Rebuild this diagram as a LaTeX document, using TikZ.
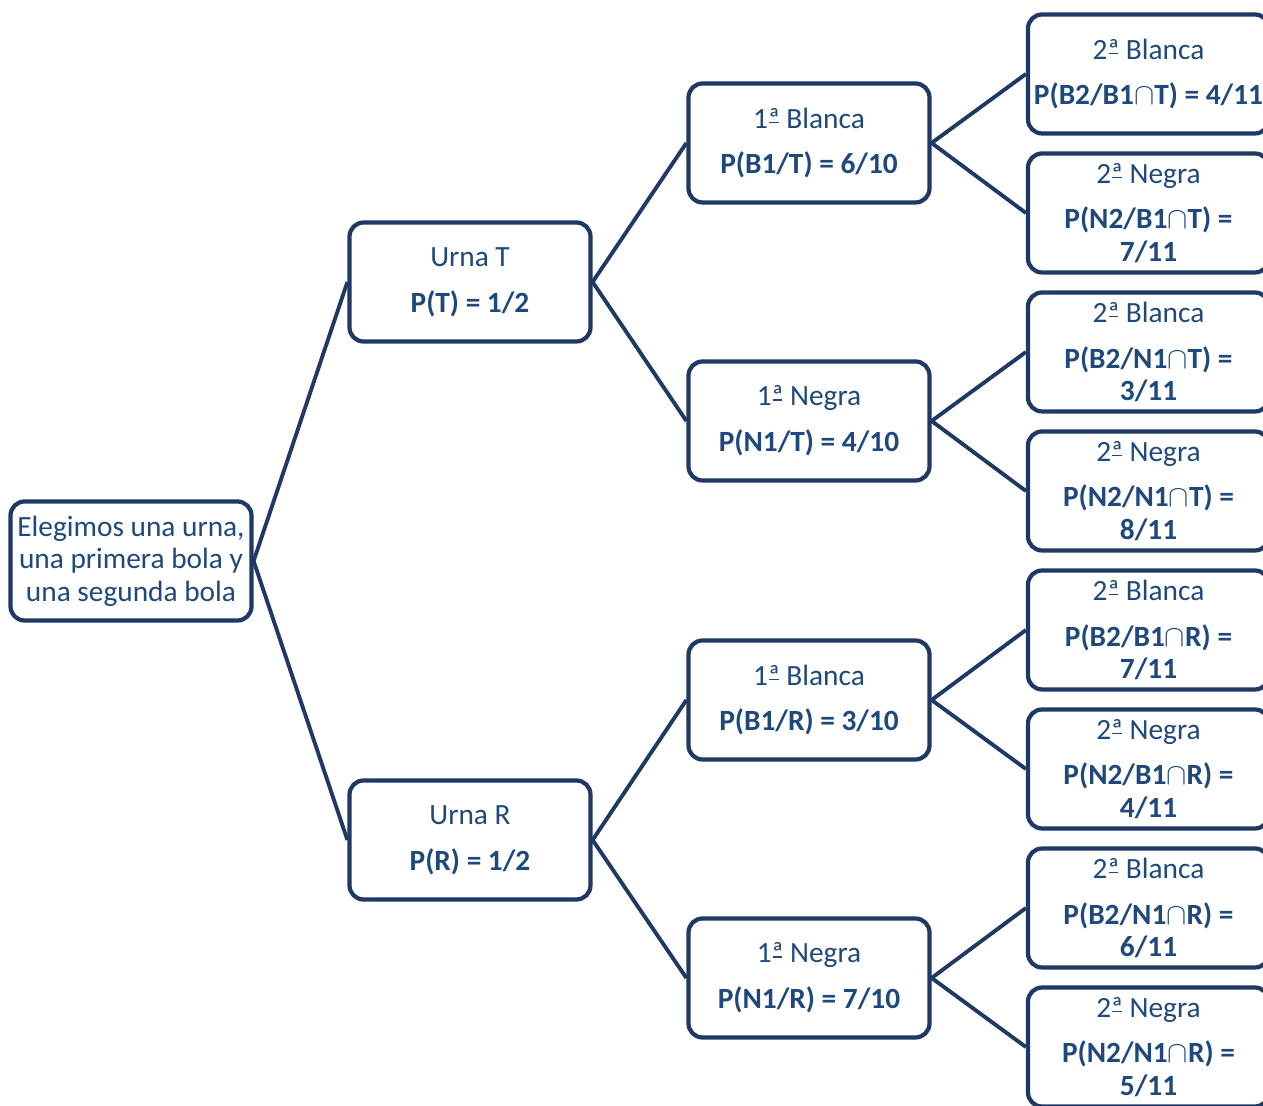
\documentclass[tikz,border=0pt]{standalone}
\usepackage{fontspec}
\setmainfont{Carlito}
\usetikzlibrary{positioning}
\definecolor{urnablue}{RGB}{31, 56, 100}
\definecolor{textblue}{RGB}{31, 73, 125}
\newcommand{\ordA}{{\ooalign{ª\cr\hidewidth\rule[0.17em]{0.32em}{0.055em}\hidewidth\cr}}}
\tikzset{
  caja/.style={draw=urnablue, line width=2.4pt, rounded corners=8pt, fill=white, text=textblue,
    align=center, minimum width=4.82cm, minimum height=2.38cm, inner sep=2pt,
    font=\fontsize{16.7}{18.5}\selectfont},
  rama/.style={draw=urnablue, line width=2.2pt}
}
\begin{document}
\begin{tikzpicture}
  \useasboundingbox (0, 0) rectangle (25.26, 22.12);

  % Raiz
  \node[caja] (raiz) at (2.62, 10.90) {Elegimos una urna,\\una primera bola y\\una segunda bola};

  % Urnas
  \node[caja] (urnaT) at (9.40, 16.48) {Urna T\\[7.5pt]\textbf{P(T) = 1/2}};
  \node[caja] (urnaR) at (9.40, 5.32) {Urna R\\[7.5pt]\textbf{P(R) = 1/2}};

  % Primera bola
  \node[caja] (b1T) at (16.18, 19.26) {1\ordA{} Blanca\\[7.5pt]\textbf{P(B1/T) = 6/10}};
  \node[caja] (n1T) at (16.18, 13.70) {1\ordA{} Negra\\[7.5pt]\textbf{P(N1/T) = 4/10}};
  \node[caja] (b1R) at (16.18, 8.12) {1\ordA{} Blanca\\[7.5pt]\textbf{P(B1/R) = 3/10}};
  \node[caja] (n1R) at (16.18, 2.56) {1\ordA{} Negra\\[7.5pt]\textbf{P(N1/R) = 7/10}};

  % Segunda bola
  \node[caja] (b2b1T) at (22.97, 20.64) {2\ordA{} Blanca\\[7.5pt]\textbf{P(B2/B1$\cap$T) = 4/11}};
  \node[caja] (n2b1T) at (22.97, 17.86) {2\ordA{} Negra\\[7.5pt]\textbf{P(N2/B1$\cap$T) =}\\\textbf{7/11}};
  \node[caja] (b2n1T) at (22.97, 15.08) {2\ordA{} Blanca\\[7.5pt]\textbf{P(B2/N1$\cap$T) =}\\\textbf{3/11}};
  \node[caja] (n2n1T) at (22.97, 12.30) {2\ordA{} Negra\\[7.5pt]\textbf{P(N2/N1$\cap$T) =}\\\textbf{8/11}};
  \node[caja] (b2b1R) at (22.97, 9.52) {2\ordA{} Blanca\\[7.5pt]\textbf{P(B2/B1$\cap$R) =}\\\textbf{7/11}};
  \node[caja] (n2b1R) at (22.97, 6.74) {2\ordA{} Negra\\[7.5pt]\textbf{P(N2/B1$\cap$R) =}\\\textbf{4/11}};
  \node[caja] (b2n1R) at (22.97, 3.96) {2\ordA{} Blanca\\[7.5pt]\textbf{P(B2/N1$\cap$R) =}\\\textbf{6/11}};
  \node[caja] (n2n1R) at (22.97, 1.18) {2\ordA{} Negra\\[7.5pt]\textbf{P(N2/N1$\cap$R) =}\\\textbf{5/11}};

  % Ramas
  \draw[rama] (raiz.east) -- (urnaT.west);
  \draw[rama] (raiz.east) -- (urnaR.west);

  \draw[rama] (urnaT.east) -- (b1T.west);
  \draw[rama] (urnaT.east) -- (n1T.west);
  \draw[rama] (urnaR.east) -- (b1R.west);
  \draw[rama] (urnaR.east) -- (n1R.west);

  \draw[rama] (b1T.east) -- (b2b1T.west);
  \draw[rama] (b1T.east) -- (n2b1T.west);
  \draw[rama] (n1T.east) -- (b2n1T.west);
  \draw[rama] (n1T.east) -- (n2n1T.west);
  \draw[rama] (b1R.east) -- (b2b1R.west);
  \draw[rama] (b1R.east) -- (n2b1R.west);
  \draw[rama] (n1R.east) -- (b2n1R.west);
  \draw[rama] (n1R.east) -- (n2n1R.west);
\end{tikzpicture}
\end{document}
